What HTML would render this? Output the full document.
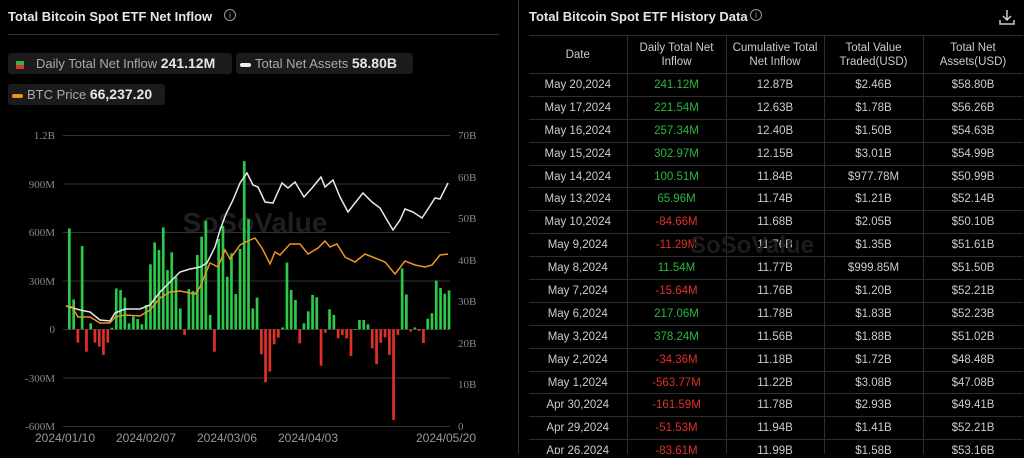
<!DOCTYPE html>
<html><head><meta charset="utf-8"><style>
*{margin:0;padding:0;box-sizing:border-box}
body{width:1024px;height:458px;background:#000;overflow:hidden;font-family:"Liberation Sans",sans-serif;position:relative;color:#ddd}
.t{position:absolute;font-weight:bold;font-size:13px;color:#e6e6e6}
.pill{position:absolute;background:#1b1b1b;border-radius:3px;height:21px;font-size:13px;color:#aaa;line-height:21px;padding-left:8px;white-space:nowrap}
.pill b{color:#e6e6e6;font-size:14px}
.wrap{position:absolute;left:529px;top:35px;width:494px;height:419px;overflow:hidden}
table{width:494px;border-collapse:collapse;font-size:11.5px;color:#ccc;table-layout:fixed}
td,th{border:1px solid #2e2e2e;text-align:center;font-weight:normal;height:22.9px;padding:0;white-space:nowrap}
th{height:38px;line-height:14px;white-space:normal}
table tr td:first-child,table tr th:first-child{border-left:none}
.g{color:#2bb640}.r{color:#e0302a}
</style></head><body>
<div class="t" style="left:8px;top:9px">Total Bitcoin Spot ETF Net Inflow</div>
<div style="position:absolute;left:224px;top:9px;width:12px;height:12px;border:1px solid #999;border-radius:50%;font-size:9px;color:#999;text-align:center;line-height:10px">i</div>
<div style="position:absolute;left:8px;top:34px;width:491px;height:1px;background:#333"></div>
<div class="pill" style="left:8px;top:53px;width:224px"><span style="display:inline-block;width:8px;height:8px;background:linear-gradient(#2bb640 50%,#e0302a 50%);vertical-align:middle;margin-right:12px"></span>Daily Total Net Inflow <b>241.12M</b></div>
<div class="pill" style="left:236px;top:53px;width:177px;padding-left:4px"><span style="display:inline-block;width:11px;height:4px;background:#eee;border-radius:2px;vertical-align:middle;margin-right:4px"></span>Total Net Assets <b>58.80B</b></div>
<div class="pill" style="left:8px;top:84px;width:157px;padding-left:4px"><span style="display:inline-block;width:11px;height:4px;background:#f0941e;border-radius:2px;vertical-align:middle;margin-right:4px"></span>BTC Price <b>66,237.20</b></div>
<div style="position:absolute;left:518px;top:0;width:1px;height:454px;background:#333"></div>
<svg id="ch" style="position:absolute;left:0;top:0" width="518" height="458" font-family="Liberation Serif,serif" font-size="11" fill="#888">
<g stroke="#333" stroke-width="1">
<line x1="63" x2="450" y1="135.5" y2="135.5"/><line x1="63" x2="450" y1="184" y2="184"/><line x1="63" x2="450" y1="232.5" y2="232.5"/><line x1="63" x2="450" y1="281" y2="281"/><line x1="63" x2="450" y1="329.5" y2="329.5"/><line x1="63" x2="450" y1="378" y2="378"/><line x1="63" x2="450" y1="426.5" y2="426.5"/>
</g>
<g text-anchor="end"><text x="55" y="139">1.2B</text><text x="55" y="188">900M</text><text x="55" y="236">600M</text><text x="55" y="285">300M</text><text x="55" y="333">0</text><text x="55" y="382">-300M</text><text x="55" y="430">-600M</text></g>
<g><text x="458" y="139">70B</text><text x="458" y="181">60B</text><text x="458" y="222">50B</text><text x="458" y="264">40B</text><text x="458" y="305">30B</text><text x="458" y="347">20B</text><text x="458" y="388">10B</text><text x="458" y="430">0</text></g>
<text x="255" y="232" font-family="Liberation Sans,sans-serif" font-size="28" font-weight="bold" fill="#1f1f1f" text-anchor="middle">SoSoValue</text>
<g id="bars"></g>
<polyline fill="none" stroke="#e8e8e8" stroke-width="1.5" points="66,306 80,310 90,312 100,320 110,321 115,313 125,309 140,309 150,305 160,292 170,282 180,272 190,269 200,267 207,263 215,247 220,230 226,214 233,200 240,183 247,173 253,185 258,187 265,202 273,203 282,183 288,188 295,182 304,197 312,188 321,177 325,187 333,180 340,197 348,212 355,203 363,193 372,202 380,208 387,220 393,230 400,220 405,209 413,212 422,218 428,209 435,198 440,199 448,183"/>
<polyline fill="none" stroke="#f0941e" stroke-width="1.5" points="66,306 72,307 78,317 90,317 100,323 110,323 115,317 125,315 140,316 150,310 160,298 170,292 180,291 195,294 200,287 210,263 218,267 225,250 230,259 240,245 250,240 255,238 262,248 270,264 275,252 280,255 290,244 300,244 308,254 318,248 325,241 330,247 337,244 345,257 355,262 365,254 375,258 385,262 395,274 405,261 415,265 425,267 432,265 440,255 448,254"/>
<g font-family="Liberation Sans,sans-serif" font-size="12" fill="#999" text-anchor="middle"><text x="65" y="442">2024/01/10</text><text x="146" y="442">2024/02/07</text><text x="227" y="442">2024/03/06</text><text x="308" y="442">2024/04/03</text><text x="446" y="442">2024/05/20</text></g>
</svg>
<div class="t" style="left:529px;top:9px">Total Bitcoin Spot ETF History Data</div>
<div style="position:absolute;left:750px;top:9px;width:12px;height:12px;border:1px solid #999;border-radius:50%;font-size:9px;color:#999;text-align:center;line-height:10px">i</div>
<svg style="position:absolute;left:998px;top:8px" width="18" height="18" fill="none" stroke="#ccc" stroke-width="1.5"><path d="M9 2v10M5 8l4 4 4-4M2 12v4h14v-4"/></svg>
<div class="wrap">
<table>
<colgroup><col style="width:98px"><col style="width:99px"><col style="width:98px"><col style="width:99px"><col style="width:100px"></colgroup>
<tr><th>Date</th><th>Daily Total Net<br>Inflow</th><th>Cumulative Total<br>Net Inflow</th><th>Total Value<br>Traded(USD)</th><th>Total Net<br>Assets(USD)</th></tr>
<tr><td>May 20,2024</td><td class="g">241.12M</td><td>12.87B</td><td>$2.46B</td><td>$58.80B</td></tr>
<tr><td>May 17,2024</td><td class="g">221.54M</td><td>12.63B</td><td>$1.78B</td><td>$56.26B</td></tr>
<tr><td>May 16,2024</td><td class="g">257.34M</td><td>12.40B</td><td>$1.50B</td><td>$54.63B</td></tr>
<tr><td>May 15,2024</td><td class="g">302.97M</td><td>12.15B</td><td>$3.01B</td><td>$54.99B</td></tr>
<tr><td>May 14,2024</td><td class="g">100.51M</td><td>11.84B</td><td>$977.78M</td><td>$50.99B</td></tr>
<tr><td>May 13,2024</td><td class="g">65.96M</td><td>11.74B</td><td>$1.21B</td><td>$52.14B</td></tr>
<tr><td>May 10,2024</td><td class="r">-84.66M</td><td>11.68B</td><td>$2.05B</td><td>$50.10B</td></tr>
<tr><td>May 9,2024</td><td class="r">-11.29M</td><td>11.76B</td><td>$1.35B</td><td>$51.61B</td></tr>
<tr><td>May 8,2024</td><td class="g">11.54M</td><td>11.77B</td><td>$999.85M</td><td>$51.50B</td></tr>
<tr><td>May 7,2024</td><td class="r">-15.64M</td><td>11.76B</td><td>$1.20B</td><td>$52.21B</td></tr>
<tr><td>May 6,2024</td><td class="g">217.06M</td><td>11.78B</td><td>$1.83B</td><td>$52.23B</td></tr>
<tr><td>May 3,2024</td><td class="g">378.24M</td><td>11.56B</td><td>$1.88B</td><td>$51.02B</td></tr>
<tr><td>May 2,2024</td><td class="r">-34.36M</td><td>11.18B</td><td>$1.72B</td><td>$48.48B</td></tr>
<tr><td>May 1,2024</td><td class="r">-563.77M</td><td>11.22B</td><td>$3.08B</td><td>$47.08B</td></tr>
<tr><td>Apr 30,2024</td><td class="r">-161.59M</td><td>11.78B</td><td>$2.93B</td><td>$49.41B</td></tr>
<tr><td>Apr 29,2024</td><td class="r">-51.53M</td><td>11.94B</td><td>$1.41B</td><td>$52.21B</td></tr>
<tr><td>Apr 26,2024</td><td class="r">-83.61M</td><td>11.99B</td><td>$1.58B</td><td>$53.16B</td></tr>
</table>
</div>
<div style="position:absolute;left:690px;top:232px;font-size:24px;font-weight:bold;color:#1c1c1c">SoSoValue</div>
<script>
var v=[627,186,-83,517,-139,37,-83,-108,-159,-83,10,254,244,197,37,79,64,31,151,404,540,493,633,368,478,327,130,-35,250,238,462,575,673,89,-139,561,642,327,472,219,500,1045,684,130,197,-155,-329,-263,-93,-52,12,414,244,182,-87,37,112,213,199,-226,-21,124,89,-56,-35,-56,-166,2,58,58,31,-118,-217,-83,-50,-159,-563,-35,378,217,-15,12,-11,-85,66,100,303,257,221,241];
var s='',k=0.161,z=329.3;
for(var i=0;i<v.length;i++){var x=69.3+i*(379.7/(v.length-1))-1.3,h=Math.abs(v[i])*k;
s+='<rect x="'+x.toFixed(1)+'" y="'+(v[i]>=0?z-h:z).toFixed(1)+'" width="2.7" height="'+Math.max(h,0.8).toFixed(1)+'" fill="'+(v[i]>=0?'#2bc84a':'#e0302a')+'"/>';}
document.getElementById('bars').innerHTML=s;
</script>
</body></html>
